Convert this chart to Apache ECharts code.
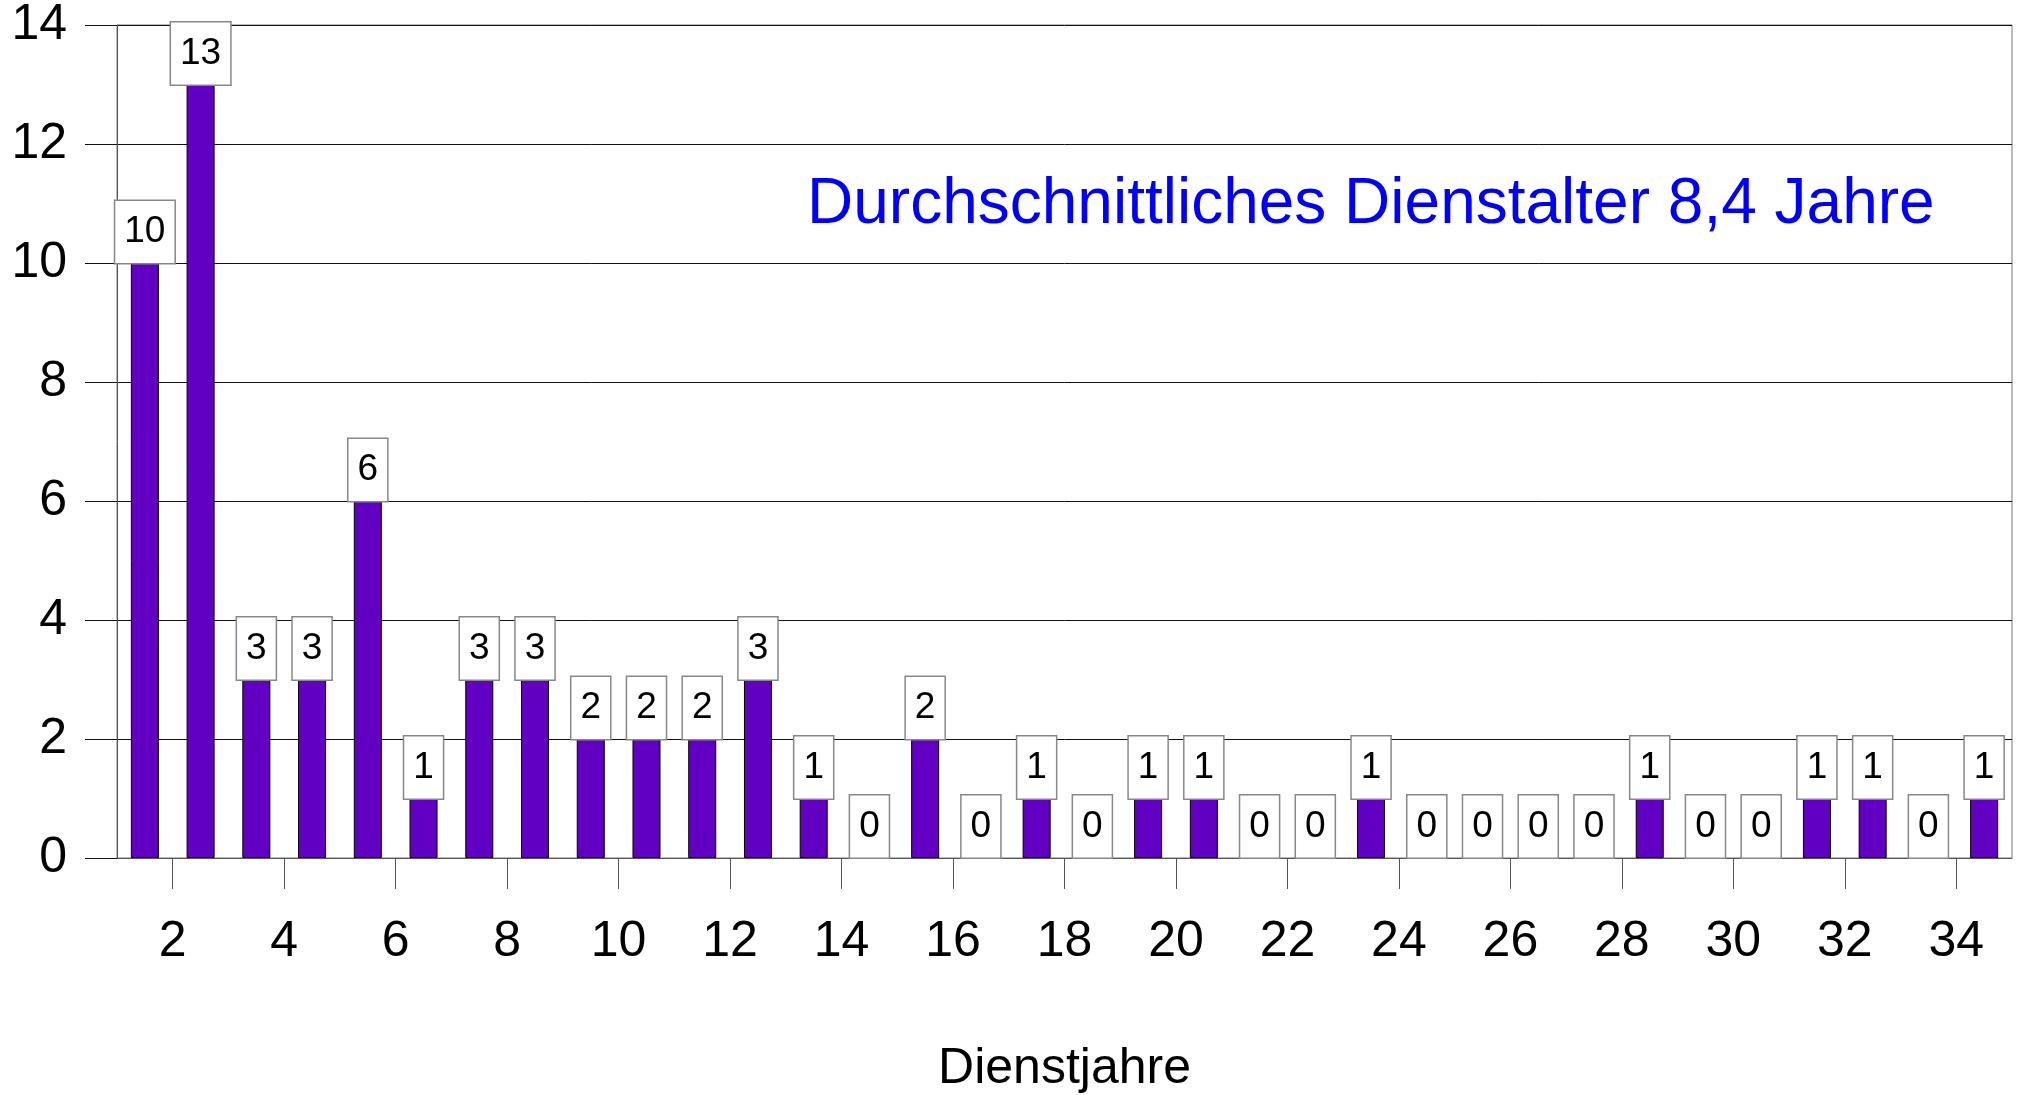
<!DOCTYPE html>
<html lang="de">
<head>
    <meta charset="UTF-8">
    <title>Dienstjahre</title>
    <script src="https://cdn.jsdelivr.net/npm/echarts@6/dist/echarts.min.js"></script>
    <style>
        html, body { margin: 0; padding: 0; background: #fff; }
        #chart { width: 2022px; height: 1095px; }
    </style>
</head>
<body>
<div id="chart"></div>
<script type="text/javascript">
    // Dienstjahre 1..34 und Anzahl
    var years = [];
    for (var i = 1; i <= 34; i++) years.push(String(i));
    var counts = [10, 13, 3, 3, 6, 1, 3, 3, 2, 2, 2, 3, 1, 0, 2, 0, 1, 0, 1, 1, 0, 0, 1, 0, 0, 0, 0, 1, 0, 0, 1, 1, 0, 1];
    var tickLabels = ['2', '4', '6', '8', '10', '12', '14', '16', '18', '20', '22', '24', '26', '28', '30', '32', '34'];
    var yTicks = [0, 2, 4, 6, 8, 10, 12, 14];
    var note = 'Durchschnittliches Dienstalter 8,4 Jahre';

    var font = '"Liberation Sans", Arial, sans-serif';

    var option = {
        animation: false,
        backgroundColor: '#fff',
        textStyle: { fontFamily: font },
        grid: {
            left: 117, right: 10, top: 25, bottom: 237,
            outerBoundsMode: 'none',
            containLabel: false,
            show: true, borderColor: '#777', borderWidth: 1
        },
        graphic: [{
            type: 'text',
            left: 807,
            top: 173,
            style: { text: note, fill: '#0000ff', font: '64px ' + font }
        }],
        xAxis: [
            {
                type: 'category',
                data: years,
                boundaryGap: true,
                axisLine: { show: true, lineStyle: { color: '#555', width: 1 } },
                axisTick: { show: false },
                axisLabel: { show: false },
                splitLine: { show: false }
            },
            {
                type: 'category',
                data: tickLabels,
                position: 'bottom',
                boundaryGap: true,
                axisLine: { show: false },
                axisTick: { show: true, alignWithLabel: true, length: 31, lineStyle: { color: '#555', width: 1 } },
                axisLabel: { color: '#000', fontSize: 50, margin: 59, fontFamily: font },
                name: 'Dienstjahre',
                nameLocation: 'middle',
                nameGap: 186,
                nameTextStyle: { color: '#000', fontSize: 50, fontFamily: font }
            }
        ],
        yAxis: {
            type: 'value',
            min: yTicks[0],
            max: yTicks[yTicks.length - 1],
            interval: 2,
            axisLine: { show: true, lineStyle: { color: '#555', width: 1 } },
            axisTick: { show: true, length: 32, lineStyle: { color: '#111', width: 1 } },
            axisLabel: { color: '#000', fontSize: 50, margin: 50, fontFamily: font },
            splitLine: { show: true, lineStyle: { color: '#111', width: 1 } }
        },
        series: [{
            type: 'bar',
            xAxisIndex: 0,
            data: counts,
            barWidth: 28,
            itemStyle: { color: '#6100c2', borderColor: '#000', borderWidth: 1 },
            label: {
                show: true,
                position: 'top',
                distance: 0,
                color: '#000',
                fontSize: 37,
                fontFamily: font,
                lineHeight: 38,
                backgroundColor: '#fff',
                borderColor: '#888',
                borderWidth: 1.5,
                padding: [12, 9, 12, 9]
            }
        }]
    };

    var myChart = echarts.init(document.getElementById('chart'));
    myChart.setOption(option);
</script>
</body>
</html>
